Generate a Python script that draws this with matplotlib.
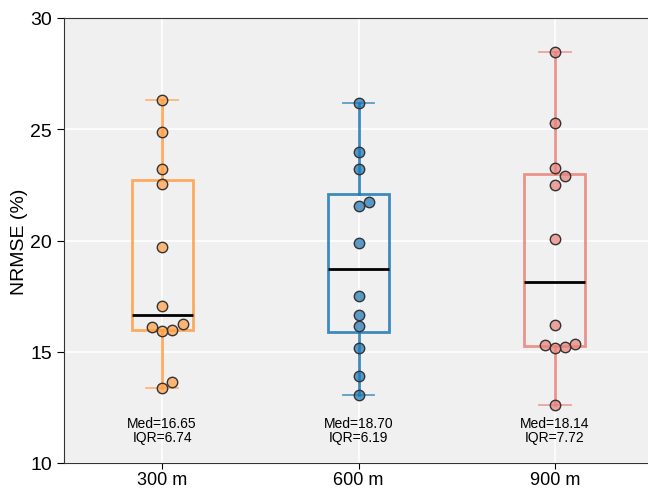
import matplotlib

matplotlib.use("Agg")
import matplotlib.pyplot as plt
import numpy as np
from matplotlib.colors import to_rgba

plt.rcParams["font.family"] = ["Liberation Sans", "DejaVu Sans"]

categories = ["300 m", "600 m", "900 m"]
nrmse_300 = [26.33, 24.86, 23.21, 22.55, 19.72, 17.05, 16.25, 16.10, 15.99, 15.92, 13.63, 13.37]
nrmse_600 = [26.19, 23.99, 23.21, 21.73, 21.55, 19.90, 17.50, 16.64, 16.16, 15.16, 13.91, 13.04]
nrmse_900 = [28.47, 25.27, 23.24, 22.92, 22.51, 20.08, 16.20, 15.33, 15.30, 15.22, 15.17, 12.59]
colors = ["#ff9f45", "#1f77b4", "#e8837a"]

series = [nrmse_300, nrmse_600, nrmse_900]


def swarm_offsets(vals, ax, diam_px=10.2):
    """Greedy beeswarm: ascending order, try 0, +d, -d, +2d, ... in pixel space."""
    bb = ax.get_window_extent()
    x0, x1 = ax.get_xlim()
    y0, y1 = ax.get_ylim()
    px_per_x = bb.width / (x1 - x0)
    px_per_y = bb.height / (y1 - y0)
    placed = []
    offs = np.zeros(len(vals))
    for idx in np.argsort(vals):
        y = vals[idx] * px_per_y
        k = 0
        while True:
            step = (k + 1) // 2 * (1 if k % 2 == 1 else -1)
            x = step * diam_px
            if all((x - px) ** 2 + (y - py) ** 2 >= diam_px ** 2 for px, py in placed):
                break
            k += 1
        placed.append((x, y))
        offs[idx] = x / px_per_x
    return offs


fig = plt.figure(figsize=(6.48, 4.89), dpi=100)
ax = fig.add_axes([64 / 648, 25 / 489, 589 / 648, 445 / 489])
ax.set_facecolor("#f0f0f0")
ax.grid(True, color="white", linewidth=1.2)
ax.set_axisbelow(True)
ax.set_xlim(-0.5, 2.5)
ax.set_ylim(10, 30)

for i, (vals, c) in enumerate(zip(series, colors)):
    bp = ax.boxplot(
        vals, positions=[i], widths=0.31, whis=1.5, showfliers=False,
        patch_artist=True, manage_ticks=False,
        boxprops=dict(facecolor="none", edgecolor=c, linewidth=2, alpha=0.85),
        whiskerprops=dict(color=c, linewidth=2, alpha=0.85),
        capprops=dict(color=c, linewidth=1.3, alpha=0.7),
        medianprops=dict(color="black", linewidth=2),
    )
    for cap in bp["caps"]:
        cx0, cx1 = cap.get_xdata()
        mid = (cx0 + cx1) / 2
        cap.set_xdata([mid - 0.08, mid + 0.08])

for i, (vals, c) in enumerate(zip(series, colors)):
    vals = np.asarray(vals)
    offs = swarm_offsets(vals, ax)
    ax.scatter(i + offs, vals, s=7.5 ** 2, facecolor=to_rgba(c, 0.72),
               edgecolor="#333333", linewidth=1, zorder=5)

for i, vals in enumerate(series):
    q1, med, q3 = np.percentile(vals, [25, 50, 75])
    ax.text(i, 11.5, f"Med={med:.2f}\nIQR={q3 - q1:.2f}", ha="center",
            va="center", fontsize=10, linespacing=1.0)

ax.set_xticks(range(len(categories)))
ax.set_xticklabels(categories)
ax.set_yticks([10, 15, 20, 25, 30])
ax.tick_params(axis="y", labelsize=14, length=5)
ax.tick_params(axis="x", labelsize=13, length=4, pad=2)
ax.set_ylabel("NRMSE (%)", fontsize=14, labelpad=2)
for s in ax.spines.values():
    s.set_color("#333333")

fig.savefig("out.png", dpi=100)
